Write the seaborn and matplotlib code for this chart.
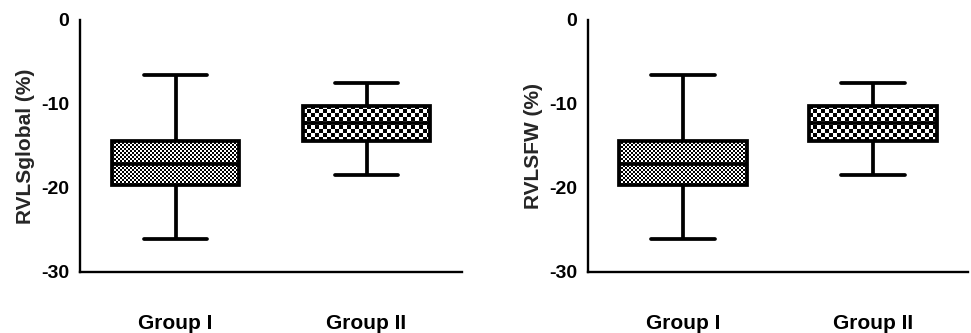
import numpy as np
import pandas as pd
import matplotlib
matplotlib.use("Agg")
import matplotlib.pyplot as plt
import seaborn as sns

groups = ["Group I", "Group II"]
# five-number summaries (min, Q1, median, Q3, max)
global_g1 = [-26.1, -19.7, -17.2, -14.4, -6.5]
global_g2 = [-18.4, -14.4, -12.3, -10.2, -7.5]
sfw_g1 = [-26.1, -19.7, -17.2, -14.4, -6.5]
sfw_g2 = [-18.4, -14.4, -12.3, -10.2, -7.5]
y_ticks = [0, -10, -20, -30]
y_labels = ["RVLSglobal (%)", "RVLSFW (%)"]

sns.set_style("white")
plt.rcParams["font.family"] = ["Liberation Sans", "DejaVu Sans"]
plt.rcParams["font.weight"] = "bold"

fig = plt.figure(figsize=(9.71, 3.33), dpi=100)
W, H = 971, 333
axes = [
    fig.add_axes([80 / W, 1 - 272 / H, 382 / W, 252 / H]),
    fig.add_axes([588 / W, 1 - 272 / H, 380 / W, 252 / H]),
]

panels = [(global_g1, global_g2), (sfw_g1, sfw_g2)]
cells = [2, 4]  # checker cell size in pixels per group

for ax, (g1, g2), ylab in zip(axes, panels, y_labels):
    df = pd.DataFrame({
        "group": [groups[0]] * len(g1) + [groups[1]] * len(g2),
        "value": g1 + g2,
    })
    sns.boxplot(data=df, x="group", y="value", order=groups, ax=ax,
                whis=(0, 100), width=0.67, color="white", linecolor="black",
                linewidth=2.7, showfliers=False)
    ax.set_xlim(-0.5, 1.5)
    ax.set_ylim(-30, 0)

    boxes = [p for p in ax.patches]
    for k, patch in enumerate(boxes):
        patch.set_facecolor("none")
        patch.set_zorder(3)
        ext = patch.get_path().get_extents()
        x0, y0, x1, y1 = ext.x0, ext.y0, ext.x1, ext.y1
        (px0, py0), (px1, py1) = ax.transData.transform([(x0, y0), (x1, y1)])
        c = cells[k % 2]
        nx = max(1, int(round(abs(px1 - px0) / c)))
        ny = max(1, int(round(abs(py1 - py0) / c)))
        ii, jj = np.indices((ny, nx))
        arr = ((ii + jj) % 2).astype(float)
        im = ax.imshow(arr, extent=(x0, x1, y0, y1), cmap="gray",
                       interpolation="nearest", aspect="auto", zorder=2,
                       vmin=0, vmax=1)
        im.set_clip_path(patch)
    for ln in ax.lines:
        ln.set_zorder(4)
    ax.set_xlim(-0.5, 1.5)
    ax.set_ylim(-30, 0)

    ax.set_yticks(y_ticks)
    ax.set_yticklabels([str(t) for t in y_ticks], fontsize=14, fontweight="bold")
    ax.set_xticks([0, 1])
    ax.set_xticklabels(groups, fontsize=15, fontweight="bold")
    ax.set_xlabel("")
    ax.set_ylabel(ylab, fontsize=15, fontweight="bold")
    ax.yaxis.set_label_coords(-0.118, 0.5)
    for s in ["top", "right"]:
        ax.spines[s].set_visible(False)
    for s in ["left", "bottom"]:
        ax.spines[s].set_linewidth(1.7)
        ax.spines[s].set_color("black")
    ax.tick_params(axis="y", direction="out", length=6.5, width=1.7, pad=1.5, colors="black")
    ax.tick_params(axis="x", direction="out", length=6.5, width=1.7, pad=24, colors="black")

fig.savefig("out.png", dpi=100)
